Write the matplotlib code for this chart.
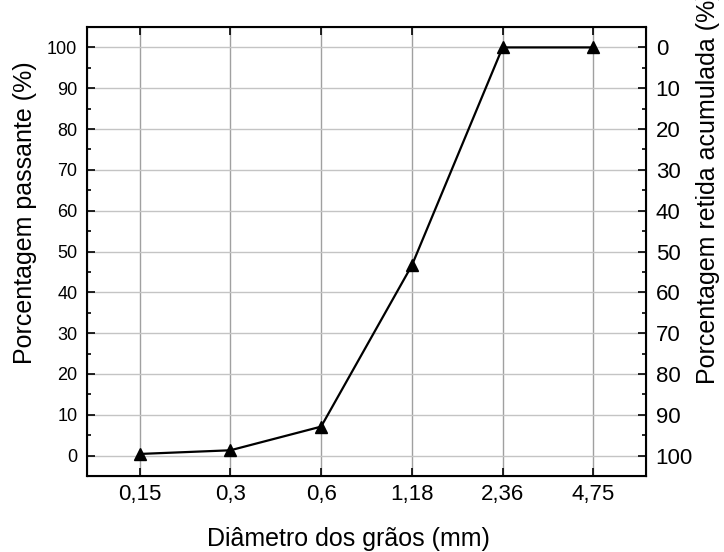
import matplotlib as mpl
mpl.use("Agg")
import matplotlib.pyplot as plt
from matplotlib.ticker import MultipleLocator

plt.rcParams['font.family'] = ['Liberation Sans', 'DejaVu Sans']

# peneiras (mm) e porcentagem passante
diametros = ['0,15', '0,3', '0,6', '1,18', '2,36', '4,75']
passante = [0.4, 1.3, 7.1, 46.6, 100, 100]

fig = plt.figure(figsize=(7.24, 5.52), dpi=100)
ax = fig.add_axes([87/724, 1 - 476/552, (646 - 87)/724, (476 - 27)/552])

x = list(range(len(diametros)))
ax.plot(x, passante, color='black', lw=1.6, marker='^', ms=9, zorder=3)

ax.set_xlim(-0.58, 5.58)
ax.set_ylim(-5, 105)
ax.set_xticks(x)
ax.set_xticklabels(diametros)
ax.yaxis.set_major_locator(MultipleLocator(10))
ax.yaxis.set_minor_locator(MultipleLocator(5))
ax.xaxis.grid(True, color='#a0a0a0', lw=1)
ax.yaxis.grid(True, color='#c4c4c4', lw=1)
ax.set_axisbelow(True)

ax.tick_params(axis='both', which='both', direction='in', width=1.2,
               top=True, color='black')
ax.tick_params(axis='both', which='major', length=6)
ax.tick_params(axis='both', which='minor', length=3)
ax.tick_params(axis='x', labeltop=False, labelsize=16, pad=6)
ax.tick_params(axis='y', labelsize=13, pad=7)
for s in ax.spines.values():
    s.set_linewidth(1.5)

# eixo da direita: retido acumulado = 100 - passante
ax2 = ax.twinx()
ax2.set_ylim(105, -5)
ax2.yaxis.set_major_locator(MultipleLocator(10))
ax2.yaxis.set_minor_locator(MultipleLocator(5))
ax2.tick_params(axis='y', which='both', direction='in', labelsize=16,
                width=1.2, pad=7)
ax2.tick_params(axis='y', which='major', length=6)
ax2.tick_params(axis='y', which='minor', length=3)

fig.text(348/724, 1 - 546/552, 'Diâmetro dos grãos (mm)', fontsize=18,
         ha='center', va='baseline')
fig.text(25/724, 1 - 364/552, 'Porcentagem passante (%)', fontsize=18,
         rotation=90, ha='center', va='bottom')
fig.text(708/724, 1 - 384/552, 'Porcentagem retida acumulada (%)',
         fontsize=18, rotation=90, ha='center', va='bottom')

fig.savefig('out.png', dpi=100)
